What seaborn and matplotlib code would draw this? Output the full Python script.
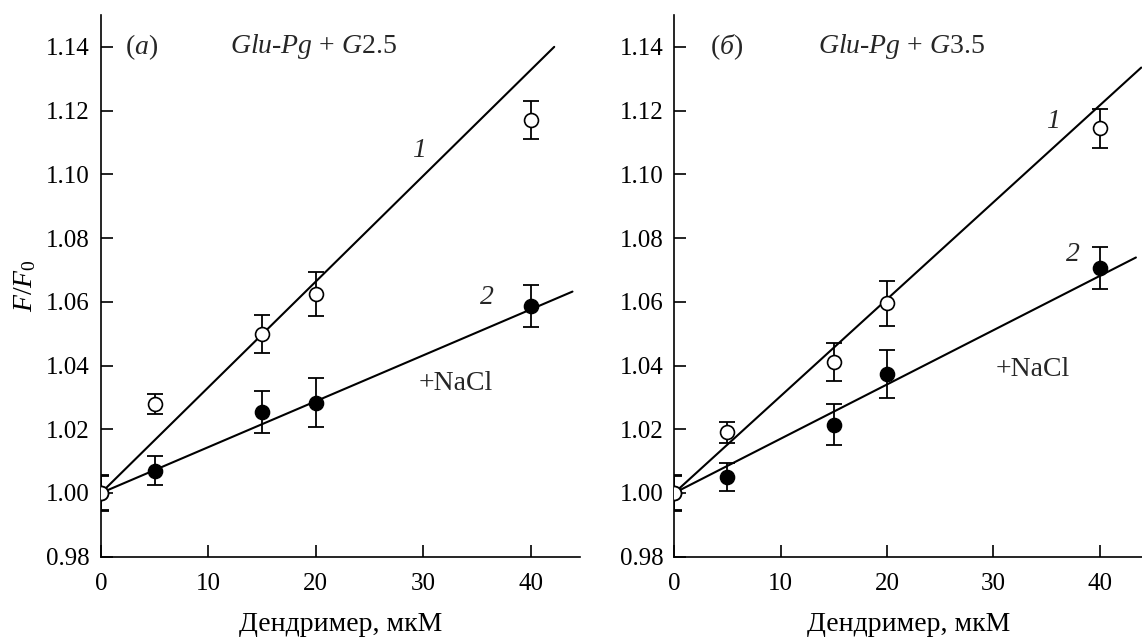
import numpy as np
import pandas as pd
import seaborn as sns
import matplotlib.pyplot as plt

# Dendrimer concentration, µM
conc = [0, 5, 15, 20, 40]

# Panel (а): Glu-Pg + G2.5
a_free = [1.000, 1.028, 1.050, 1.0625, 1.117]
a_free_err = [0.0053, 0.0032, 0.006, 0.007, 0.006]
a_nacl = [1.000, 1.007, 1.0255, 1.0283, 1.0587]
a_nacl_err = [0.0057, 0.0045, 0.0066, 0.0077, 0.0066]

# Panel (б): Glu-Pg + G3.5
b_free = [1.000, 1.019, 1.0412, 1.0595, 1.1144]
b_free_err = [0.0053, 0.0033, 0.006, 0.007, 0.006]
b_nacl = [1.000, 1.005, 1.0214, 1.0373, 1.0707]
b_nacl_err = [0.0057, 0.0044, 0.0065, 0.0075, 0.0066]

# Linear fits (end points)
a_fit1_x, a_fit1_y = [0, 42.2], [1.0, 1.14]
a_fit2_x, a_fit2_y = [0, 43.9], [1.0, 1.0632]
b_fit1_x, b_fit1_y = [0, 43.9], [1.0, 1.1335]
b_fit2_x, b_fit2_y = [0, 43.4], [1.0, 1.0739]

y_ticks = [0.98, 1.00, 1.02, 1.04, 1.06, 1.08, 1.10, 1.12, 1.14]
x_ticks = [0, 10, 20, 30, 40]

sns.set_theme(style="ticks")
plt.rcParams.update({
    "font.family": ["Liberation Serif", "DejaVu Serif"],
    "mathtext.fontset": "custom",
    "mathtext.rm": "Liberation Serif",
    "mathtext.it": "Liberation Serif:italic",
    "mathtext.bf": "Liberation Serif:bold",
})

FS_TICK = 18
FS = 20
W, H = 1142, 639
fig = plt.figure(figsize=(W / 100, H / 100), dpi=100)
bottom = 1 - 556.7 / H
height = (556.7 - 15) / H
ax1 = fig.add_axes([101 / W, bottom, 479 / W, height])
ax2 = fig.add_axes([674.3 / W, bottom, 468 / W, height])


def draw_panel(ax, free, free_err, nacl, nacl_err, f1x, f1y, f2x, f2y, xmax):
    sns.lineplot(x=f1x, y=f1y, ax=ax, color="black", lw=1.5, zorder=2)
    sns.lineplot(x=f2x, y=f2y, ax=ax, color="black", lw=1.5, zorder=2)
    ax.errorbar(conc, nacl, yerr=nacl_err, fmt="none", ecolor="black",
                elinewidth=1.3, capsize=5.5, capthick=1.3, zorder=3)
    ax.errorbar(conc, free, yerr=free_err, fmt="none", ecolor="black",
                elinewidth=1.3, capsize=5.5, capthick=1.3, zorder=3)
    sns.scatterplot(x=conc, y=nacl, ax=ax, marker="o", s=105, color="black",
                    edgecolor="black", linewidth=1.0, zorder=4)
    sns.scatterplot(x=conc, y=free, ax=ax, marker="o", s=100, color="white",
                    edgecolor="black", linewidth=1.2, zorder=5)
    ax.set_xlim(0, xmax)
    ax.set_ylim(0.98, 1.15)
    ax.set_xticks(x_ticks)
    ax.set_yticks(y_ticks)
    ax.set_xticklabels([str(v) for v in x_ticks])
    ax.set_yticklabels([f"{v:.2f}" for v in y_ticks])
    ax.tick_params(axis="both", direction="in", length=8.5, width=1.2,
                   labelsize=FS_TICK, color="black", labelcolor="black")
    ax.tick_params(axis="y", pad=8)
    ax.tick_params(axis="x", pad=12)
    for side in ("top", "right"):
        ax.spines[side].set_visible(False)
    for side in ("left", "bottom"):
        ax.spines[side].set_linewidth(1.2)
        ax.spines[side].set_color("black")
    ax.set_xlabel("Дендример, мкМ", fontsize=FS, labelpad=12, color="black")
    ax.set_facecolor("white")


draw_panel(ax1, a_free, a_free_err, a_nacl, a_nacl_err,
           a_fit1_x, a_fit1_y, a_fit2_x, a_fit2_y, 44.6)
draw_panel(ax2, b_free, b_free_err, b_nacl, b_nacl_err,
           b_fit1_x, b_fit1_y, b_fit2_x, b_fit2_y, 44.0)

ax1.set_ylabel(r"$F/F_0$", fontsize=FS, labelpad=6, color="black")
ax2.set_ylabel("")

# Panel annotations
ax1.text(3.8, 1.14, r"($\mathit{а}$)", fontsize=FS, ha="center", va="center")
ax1.text(12.0, 1.14, r"$\mathit{Glu}$-$\mathit{Pg}$ + $\mathit{G}$2.5",
         fontsize=FS, ha="left", va="center")
ax1.text(29.6, 1.1075, "1", fontsize=FS, style="italic", ha="center", va="center")
ax1.text(35.9, 1.0612, "2", fontsize=FS, style="italic", ha="center", va="center")
ax1.text(33.0, 1.0345, "+NaCl", fontsize=FS, ha="center", va="center")

ax2.text(4.9, 1.14, r"($\mathit{б}$)", fontsize=FS, ha="center", va="center")
ax2.text(13.5, 1.14, r"$\mathit{Glu}$-$\mathit{Pg}$ + $\mathit{G}$3.5",
         fontsize=FS, ha="left", va="center")
ax2.text(35.6, 1.1167, "1", fontsize=FS, style="italic", ha="center", va="center")
ax2.text(37.5, 1.0747, "2", fontsize=FS, style="italic", ha="center", va="center")
ax2.text(33.7, 1.0389, "+NaCl", fontsize=FS, ha="center", va="center")

fig.savefig("out.png", dpi=100, facecolor="white")
